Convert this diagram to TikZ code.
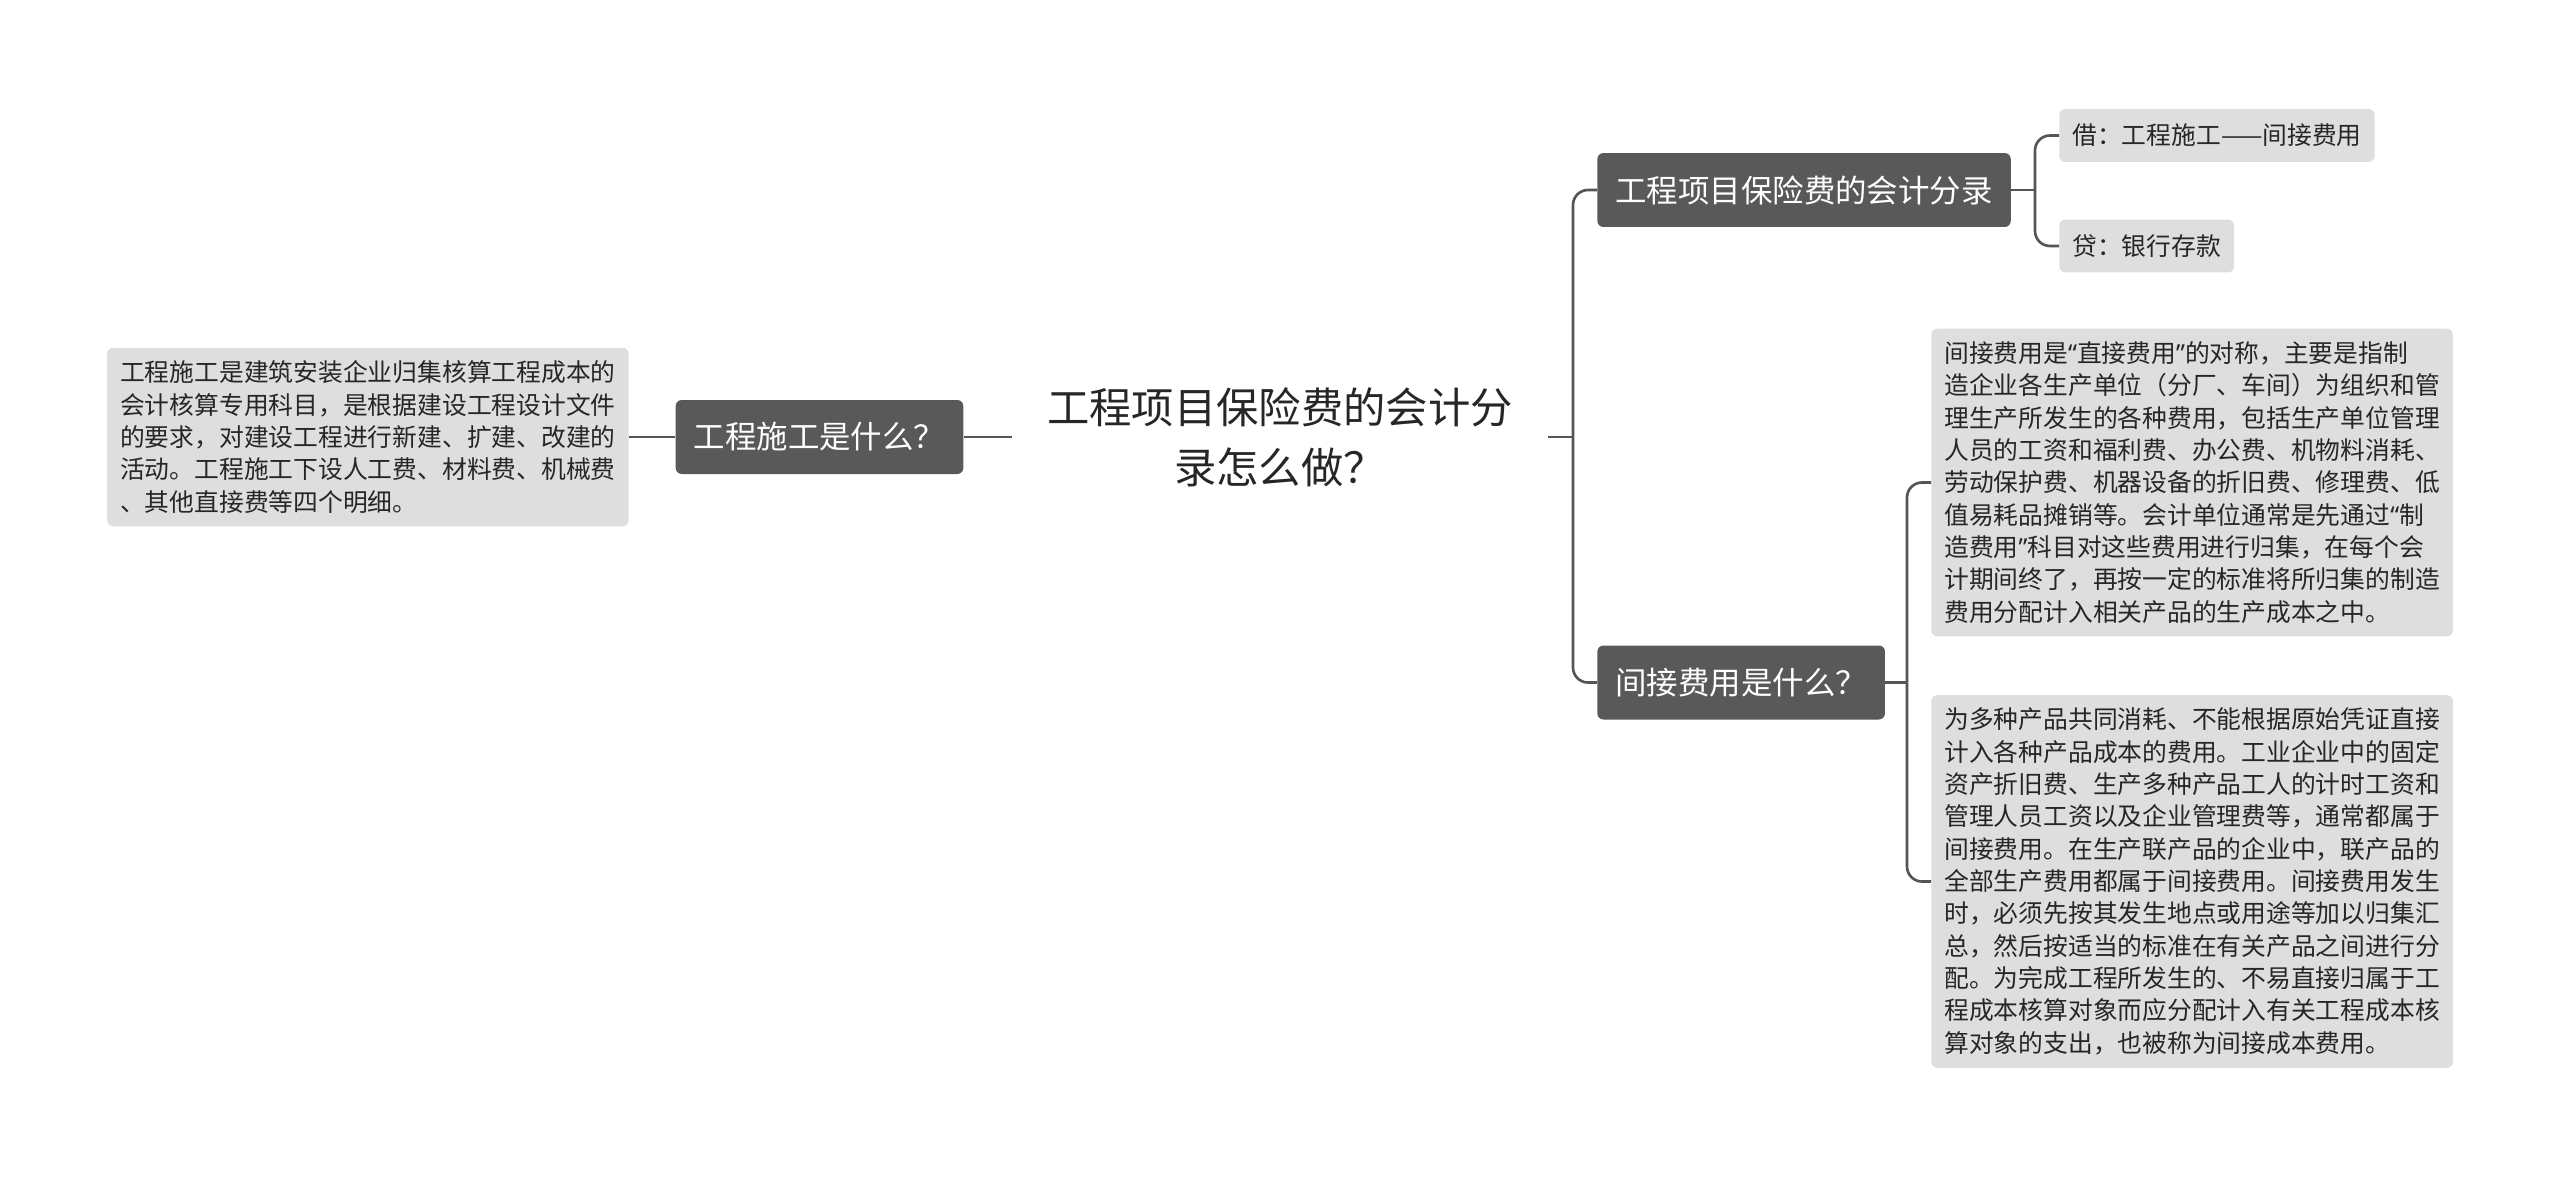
\documentclass[tikz,border=0pt]{standalone}
\usepackage{fontspec}
\setmainfont{Noto Sans CJK SC}
\newfontfamily\quotefont{Noto Sans}

\definecolor{topicgray}{HTML}{595959}
\definecolor{leafgray}{HTML}{DEDEDE}
\definecolor{linegray}{HTML}{555555}
\definecolor{inkgray}{HTML}{262626}

\newcommand{\openq}{{\quotefont “}}
\newcommand{\closeq}{{\quotefont ”}}

\begin{document}
\begin{tikzpicture}[x=0.02cm,y=-0.02cm,
  rootnode/.style={inner xsep=0.7cm, text=inkgray, align=center, font=\fontsize{24.1}{34}\selectfont},
  topicnode/.style={fill=topicgray, text=white, rounded corners=0.12cm, inner xsep=0.36cm, minimum height=1.48cm, font=\fontsize{17.9}{22}\selectfont},
  leafnode/.style={fill=leafgray, text=inkgray, rounded corners=0.12cm, inner sep=0.26cm, align=left, font=\fontsize{14.1}{18.4}\selectfont},
  conn/.style={draw=linegray, line width=1.5pt},
  elbowline/.style={conn, rounded corners=0.3cm}]

  \useasboundingbox (0,0) rectangle (2560,1177);

  % centre
  \node[rootnode] (root) at (1280,437) {工程项目保险费的会计分\\录怎么做？};

  % left side
  \node[topicnode] (what) at (819.5,437) {工程施工是什么？};
  \node[leafnode, anchor=east] (whatnote) at (629,437) {工程施工是建筑安装企业归集核算工程成本的\\会计核算专用科目，是根据建设工程设计文件\\的要求，对建设工程进行新建、扩建、改建的\\活动。工程施工下设人工费、材料费、机械费\\、其他直接费等四个明细。};

  % right side
  \node[topicnode, anchor=west] (entry) at (1597,190) {工程项目保险费的会计分录};
  \node[leafnode, anchor=west, inner ysep=0.3cm] (debit) at (2059,135.5) {借：工程施工——间接费用};
  \node[leafnode, anchor=west, inner ysep=0.3cm] (credit) at (2059,246) {贷：银行存款};

  \node[topicnode, anchor=west] (indirect) at (1597,682.5) {间接费用是什么？};
  \node[leafnode, anchor=west] (indnote) at (1931,482.5) {间接费用是\openq 直接费用\closeq 的对称，主要是指制\\造企业各生产单位（分厂、车间）为组织和管\\理生产所发生的各种费用，包括生产单位管理\\人员的工资和福利费、办公费、机物料消耗、\\劳动保护费、机器设备的折旧费、修理费、低\\值易耗品摊销等。会计单位通常是先通过\openq 制\\造费用\closeq 科目对这些费用进行归集，在每个会\\计期间终了，再按一定的标准将所归集的制造\\费用分配计入相关产品的生产成本之中。};
  \node[leafnode, anchor=west] (indmore) at (1931,881.5) {为多种产品共同消耗、不能根据原始凭证直接\\计入各种产品成本的费用。工业企业中的固定\\资产折旧费、生产多种产品工人的计时工资和\\管理人员工资以及企业管理费等，通常都属于\\间接费用。在生产联产品的企业中，联产品的\\全部生产费用都属于间接费用。间接费用发生\\时，必须先按其发生地点或用途等加以归集汇\\总，然后按适当的标准在有关产品之间进行分\\配。为完成工程所发生的、不易直接归属于工\\程成本核算对象而应分配计入有关工程成本核\\算对象的支出，也被称为间接成本费用。};

  % connectors
  \coordinate (rootjoin) at (1573,437);
  \coordinate (entryjoin) at (2035,190);
  \coordinate (indjoin) at (1907,682.5);

  \draw[conn] (what.east) -- (root.west);
  \draw[conn] (whatnote.east) -- (what.west);
  \draw[conn] (root.east) -- (rootjoin);
  \draw[elbowline] (rootjoin) |- (entry.west);
  \draw[elbowline] (rootjoin) |- (indirect.west);
  \draw[conn] (entry.east) -- (entryjoin);
  \draw[elbowline] (entryjoin) |- (debit.west);
  \draw[elbowline] (entryjoin) |- (credit.west);
  \draw[conn] (indirect.east) -- (indjoin);
  \draw[elbowline] (indjoin) |- (indnote.west);
  \draw[elbowline] (indjoin) |- (indmore.west);

\end{tikzpicture}
\end{document}
